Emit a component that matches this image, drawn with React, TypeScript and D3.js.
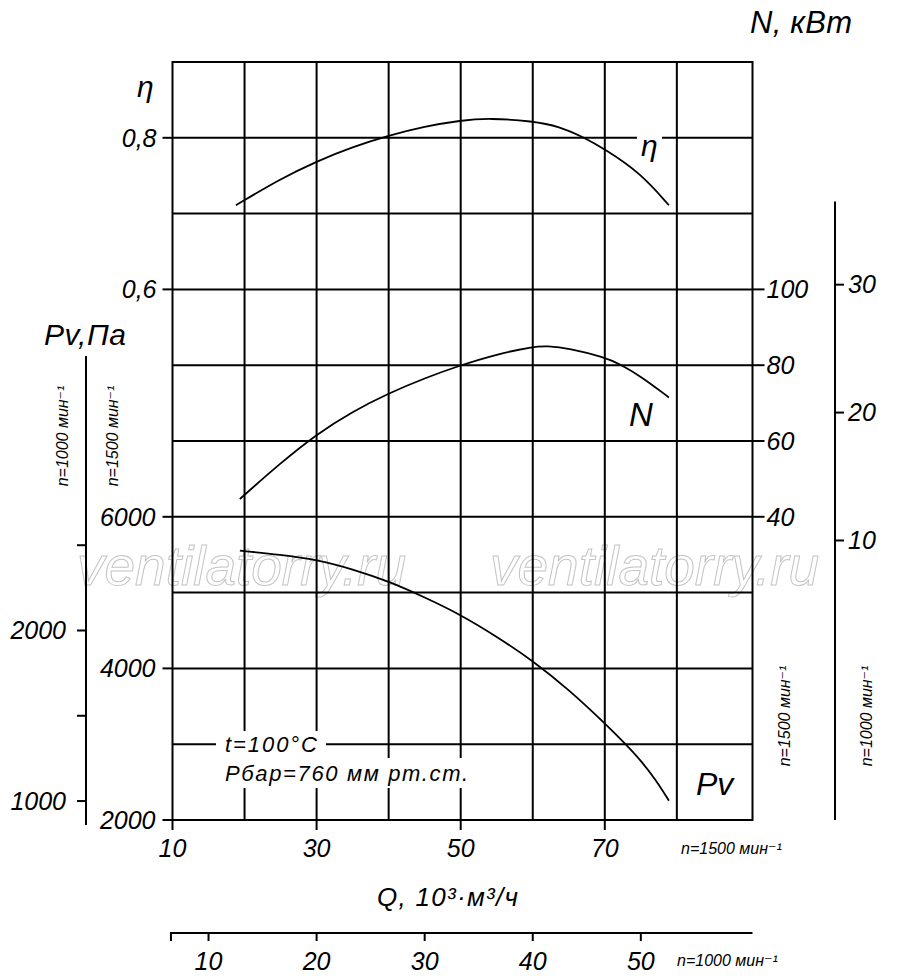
import React from 'react';
import * as d3 from 'd3';

// flow Q, 10^3 m3/h (n=1500) and the three characteristics
const etaQ = [18.8, 25, 30, 35, 40, 45, 50, 54, 60, 63.7, 67, 70, 74.9, 78.9];
const etaValues = [0.711, 0.746, 0.769, 0.788, 0.803, 0.815, 0.823, 0.826, 0.822, 0.815, 0.801, 0.785, 0.754, 0.711];

const powerQ = [19.35, 25, 30, 35, 40, 45, 50, 55, 60, 62, 65, 70, 72, 75, 78.9];
const powerValues = [44.7, 54.2, 61.8, 67.8, 72.6, 76.6, 80.0, 82.9, 84.9, 85.1, 84.5, 82.1, 80.4, 77.1, 71.5];

const pressureQ = [19.35, 25, 30, 35, 40, 45, 50, 55, 60, 65, 70, 72.9, 75, 77, 78.9];
const pressureValues = [5554, 5500, 5436, 5310, 5149, 4938, 4708, 4420, 4103, 3720, 3277, 3000, 2785, 2540, 2255];

// axis tick labels
const qTicks1500 = [10, 30, 50, 70];
const qTicks1000 = [10, 20, 30, 40, 50];
const etaTicks = [0.6, 0.8];
const pvTicks1500 = [2000, 4000, 6000];
const pvTicks1000 = [1000, 2000];
const pvMinorTicks1000 = [1500, 2500];
const nTicks1500 = [40, 60, 80, 100];
const nTicks1000 = [10, 20, 30];
const gridQ = [20, 30, 40, 50, 60, 70, 80];
const gridPv = [3000, 4000, 5000, 6000, 7000, 8000, 9000, 10000, 11000];

// speed ratio 1000/1500
const k = 2 / 3;

const W = 900;
const H = 978;
const FONT = "'Liberation Sans', Arial, 'DejaVu Sans', sans-serif";

const App: React.FC = () => {
  const x = d3.scaleLinear().domain([10, 90.5]).range([172.5, 752.5]);
  const x1000 = d3.scaleLinear().domain([10 * k, 90.5 * k]).range([172.5, 752.5]);
  const yPv = d3.scaleLinear().domain([2000, 12000]).range([820, 62]);
  const yPv1000 = d3.scaleLinear().domain([2000 * k * k, 12000 * k * k]).range([820, 62]);
  const yEta = d3.scaleLinear().domain([-0.1, 0.9]).range([820, 62]);
  const yN = d3.scaleLinear().domain([-40, 160]).range([820, 62]);
  const yN1000 = d3.scaleLinear().domain([-40 * k * k * k, 160 * k * k * k]).range([820, 62]);

  const [x0, x1] = x.range();
  const [yb, yt] = yPv.range();

  const mk = (qs: number[], vs: number[], sy: d3.ScaleLinear<number, number>) =>
    d3.line<number>()
      .x((_, i) => x(qs[i]))
      .y((v) => sy(v))
      .curve(d3.curveBasis)(vs) || '';

  const etaPath = mk(etaQ, etaValues, yEta);
  const powerPath = mk(powerQ, powerValues, yN);
  const pressurePath = mk(pressureQ, pressureValues, yPv);

  const txt = { fontFamily: FONT, fontStyle: 'italic' as const, fill: '#000' };
  const small = { fontFamily: FONT, fontStyle: 'italic' as const, fill: '#000', fontSize: 16 };
  const tick = { ...txt, fontSize: 25 };

  const nAxis1000X = 835;
  const pvAxis1000X = 86;
  const qAxis1000Y = 933;

  return (
    <svg width={W} height={H} style={{ position: 'absolute', left: 0, top: 0, background: '#fff' }}>
      <rect width={W} height={H} fill="#fff" />

      {/* watermark */}
      <g fontFamily={FONT} fontStyle="italic" fontSize={55} fill="none" stroke="#c4c4c4" strokeWidth={1}>
        <text x={77} y={585}>ventilatorry.ru</text>
        <text x={490} y={585}>ventilatorry.ru</text>
      </g>

      {/* grid */}
      <g stroke="#000" strokeWidth={2}>
        {gridQ.map((q) => (
          <line key={'gq' + q} x1={x(q)} x2={x(q)} y1={yb} y2={yt} />
        ))}
        {gridPv.map((p) => (
          <line key={'gp' + p} x1={x0} x2={x1} y1={yPv(p)} y2={yPv(p)} />
        ))}
        <rect x={x0} y={yt} width={x1 - x0} height={yb - yt} fill="none" />
      </g>

      {/* operating conditions */}
      <rect x={216} y={731} width={110} height={27} fill="#fff" />
      <rect x={216} y={758} width={256} height={30} fill="#fff" />
      <text x={225} y={752} fontSize={22} textLength={92} lengthAdjust="spacing" {...txt}>t=100°C</text>
      <text x={225} y={781} fontSize={22} textLength={243} lengthAdjust="spacing" {...txt}>Рбар=760 мм рт.ст.</text>

      {/* curves */}
      <g fill="none" stroke="#000" strokeWidth={1.8}>
        <path d={etaPath} />
        <path d={powerPath} />
        <path d={pressurePath} />
      </g>

      {/* curve labels */}
      <rect x={637} y={132} width={25} height={14} fill="#fff" />
      <text x={641} y={156} fontSize={30} {...txt}>η</text>
      <text x={629} y={426} fontSize={33} {...txt}>N</text>
      <text x={696} y={795} fontSize={32} {...txt}>Pv</text>

      {/* ticks on the main frame */}
      <g stroke="#000" strokeWidth={2}>
        {etaTicks.map((t) => (
          <line key={'et' + t} x1={x0 - 10} x2={x0} y1={yEta(t)} y2={yEta(t)} />
        ))}
        {pvTicks1500.map((t) => (
          <line key={'pt' + t} x1={x0 - 10} x2={x0} y1={yPv(t)} y2={yPv(t)} />
        ))}
        {qTicks1500.map((t) => (
          <line key={'qt' + t} x1={x(t)} x2={x(t)} y1={yb} y2={yb + 10} />
        ))}
        {nTicks1500.map((t) => (
          <line key={'nt' + t} x1={x1} x2={x1 + 12} y1={yN(t)} y2={yN(t)} />
        ))}
      </g>
      <g textAnchor="end" {...tick}>
        {etaTicks.map((t) => (
          <text key={'etl' + t} x={x0 - 16} y={yEta(t)} dy="0.35em">{d3.format('.1f')(t).replace('.', ',')}</text>
        ))}
        {pvTicks1500.map((t) => (
          <text key={'ptl' + t} x={x0 - 17} y={yPv(t)} dy="0.35em">{t}</text>
        ))}
      </g>
      <g textAnchor="middle" {...tick}>
        {qTicks1500.map((t) => (
          <text key={'qtl' + t} x={x(t)} y={857}>{t}</text>
        ))}
      </g>
      <g {...tick}>
        {nTicks1500.map((t) => (
          <text key={'ntl' + t} x={x1 + 14} y={yN(t)} dy="0.35em">{t}</text>
        ))}
      </g>

      {/* N axis, n=1000 */}
      <g stroke="#000" strokeWidth={2}>
        <line x1={nAxis1000X} x2={nAxis1000X} y1={yN1000(36.5)} y2={yb} />
        {nTicks1000.map((t) => (
          <line key={'n1' + t} x1={nAxis1000X} x2={nAxis1000X + 9} y1={yN1000(t)} y2={yN1000(t)} />
        ))}
      </g>
      <g {...tick}>
        {nTicks1000.map((t) => (
          <text key={'n1l' + t} x={nAxis1000X + 13} y={yN1000(t)} dy="0.35em">{t}</text>
        ))}
      </g>

      {/* Pv axis, n=1000 */}
      <g stroke="#000" strokeWidth={2}>
        <line x1={pvAxis1000X} x2={pvAxis1000X} y1={yPv1000(3610)} y2={yPv1000(860)} />
        {[...pvTicks1000, ...pvMinorTicks1000].map((t) => (
          <line key={'p1' + t} x1={pvAxis1000X - 9} x2={pvAxis1000X} y1={yPv1000(t)} y2={yPv1000(t)} />
        ))}
      </g>
      <g textAnchor="end" {...tick}>
        {pvTicks1000.map((t) => (
          <text key={'p1l' + t} x={pvAxis1000X - 20} y={yPv1000(t)} dy="0.35em">{t}</text>
        ))}
      </g>

      {/* Q axis, n=1000 */}
      <g stroke="#000" strokeWidth={2}>
        <line x1={x1000(6.43)} x2={x1} y1={qAxis1000Y} y2={qAxis1000Y} />
        <line x1={x1000(6.43) + 1} x2={x1000(6.43) + 1} y1={qAxis1000Y} y2={qAxis1000Y + 8} />
        {qTicks1000.map((t) => (
          <line key={'q1' + t} x1={x1000(t)} x2={x1000(t)} y1={qAxis1000Y} y2={qAxis1000Y + 8} />
        ))}
      </g>
      <g textAnchor="middle" {...tick}>
        {qTicks1000.map((t) => (
          <text key={'q1l' + t} x={x1000(t)} y={970}>{t}</text>
        ))}
      </g>

      {/* axis titles */}
      <text x={137} y={97} fontSize={30} {...txt}>η</text>
      <text x={750} y={33} fontSize={31} textLength={102} lengthAdjust="spacing" {...txt}>N, кВт</text>
      <text x={44} y={345} fontSize={30} textLength={82} lengthAdjust="spacing" {...txt}>Pv,Па</text>
      <text x={377} y={906} fontSize={26} textLength={141} lengthAdjust="spacing" {...txt}>Q, 10³·м³/ч</text>

      {/* speed notes */}
      <text x={681} y={854} {...small}>n=1500 мин⁻¹</text>
      <text x={677} y={966} {...small}>n=1000 мин⁻¹</text>
      <text transform="translate(68,436) rotate(-90)" textAnchor="middle" {...small}>n=1000 мин⁻¹</text>
      <text transform="translate(118,436) rotate(-90)" textAnchor="middle" {...small}>n=1500 мин⁻¹</text>
      <text transform="translate(790,716) rotate(-90)" textAnchor="middle" {...small}>n=1500 мин⁻¹</text>
      <text transform="translate(872,716) rotate(-90)" textAnchor="middle" {...small}>n=1000 мин⁻¹</text>
    </svg>
  );
};

export default App;
